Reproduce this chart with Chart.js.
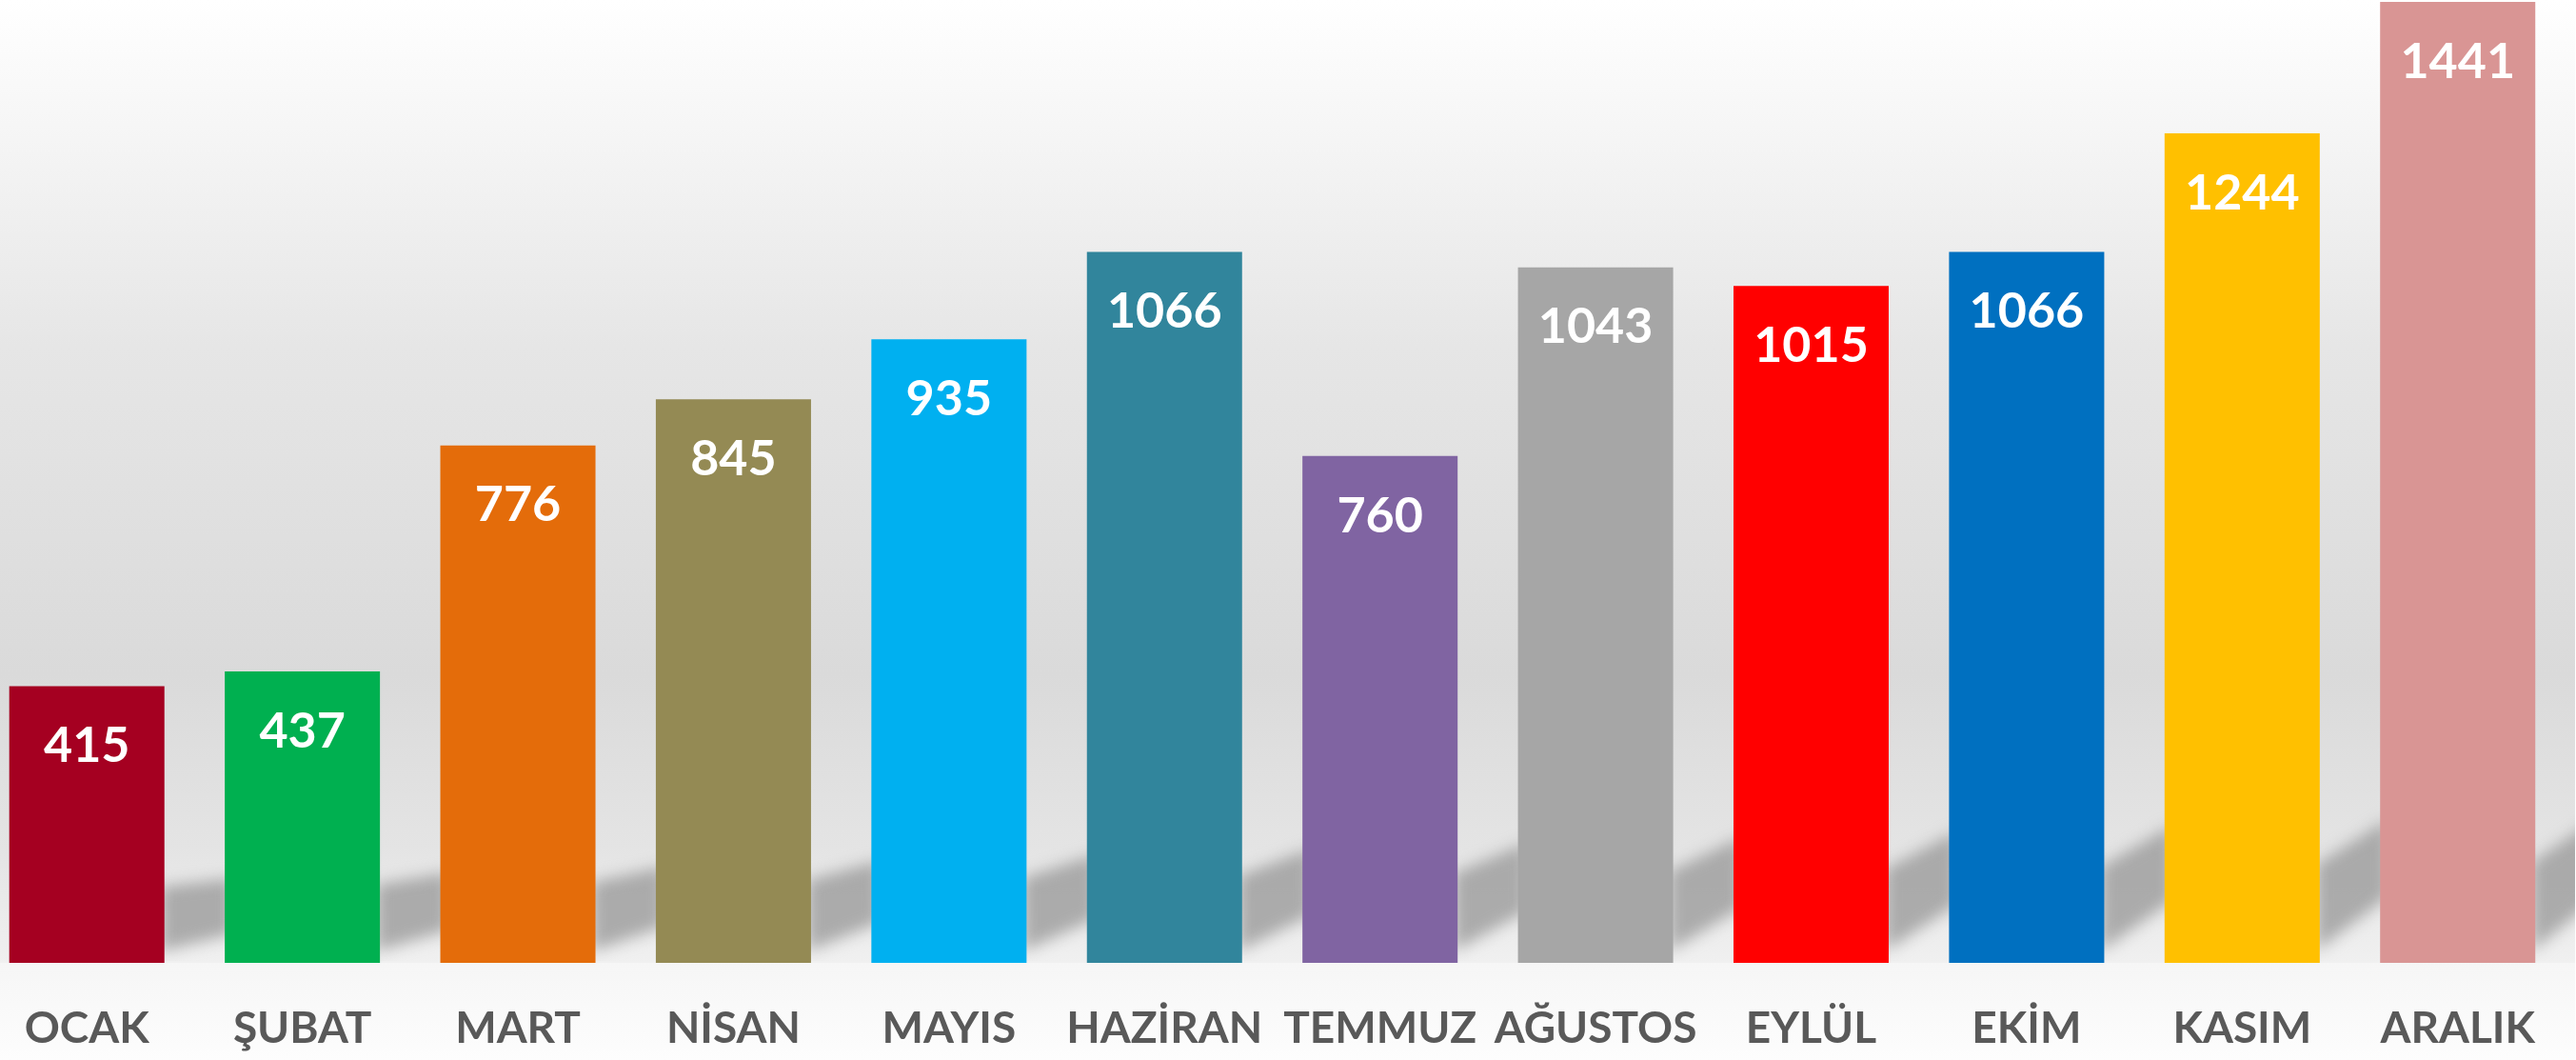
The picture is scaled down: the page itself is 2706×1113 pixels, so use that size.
<!DOCTYPE html>
<html>
<head>
<meta charset="utf-8">
<script src="https://cdn.jsdelivr.net/npm/chart.js@4"></script>
<style>
    body { margin: 0; overflow: hidden; background: #ffffff; }
    #chart-container { position: absolute; left: -22px; top: 0; width: 2727px; height: 1113px; }
</style>
</head>
<body>
<div id="chart-container"><canvas id="monthly-chart"></canvas></div>
<script>
const months = ["OCAK", "ŞUBAT", "MART", "NİSAN", "MAYIS", "HAZİRAN", "TEMMUZ", "AĞUSTOS", "EYLÜL", "EKİM", "KASIM", "ARALIK"];
const counts = [415, 437, 776, 845, 935, 1066, 760, 1043, 1015, 1066, 1244, 1441];
const barColors = ["#A50021", "#00B050", "#E46C0A", "#948A54", "#00B0F0", "#31859C",
                   "#8064A2", "#A6A6A6", "#FF0000", "#0070C0", "#FFC000", "#D99594"];

// Slide-like grey gradient behind everything, plus slanted floor shadows next to each bar
const backgroundPlugin = {
    id: 'background',
    beforeDraw(chart) {
        const ctx = chart.ctx;
        const w = chart.width, h = chart.height;
        const base = chart.chartArea.bottom;
        const grad = ctx.createLinearGradient(0, 0, 0, base);
        grad.addColorStop(0, '#ffffff');
        grad.addColorStop(0.36, '#e6e6e6');
        grad.addColorStop(0.7, '#dadada');
        grad.addColorStop(0.88, '#e4e4e4');
        grad.addColorStop(1, '#f0f0f0');
        ctx.save();
        ctx.fillStyle = grad;
        ctx.fillRect(0, 0, w, base);
        const floor = ctx.createLinearGradient(0, base, 0, h);
        floor.addColorStop(0, '#f6f6f6');
        floor.addColorStop(1, '#fdfdfd');
        ctx.fillStyle = floor;
        ctx.fillRect(0, base, w, h - base);

        // shadows: steeper and taller towards the right
        ctx.beginPath();
        ctx.rect(0, 0, w, base - 2);
        ctx.clip();
        ctx.filter = 'blur(8px)';
        ctx.fillStyle = 'rgba(150,150,150,0.75)';
        const bars = chart.getDatasetMeta(0).data;
        bars.forEach((bar, i) => {
            const right = bar.x + bar.width / 2;
            const gap = 72;
            const t = i / (bars.length - 1);
            const slope = 0.12 + 0.6 * t;
            const top = 80 + 25 * t;
            ctx.beginPath();
            ctx.moveTo(right - 4, base - 12);
            ctx.lineTo(right - 4, base - top);
            ctx.lineTo(right + gap, base - top - slope * gap);
            ctx.lineTo(right + gap, base - 22 - slope * gap);
            ctx.closePath();
            ctx.fill();
        });
        ctx.restore();
    }
};

// White value labels near the top inside each bar
const valueLabelPlugin = {
    id: 'valueLabels',
    afterDatasetsDraw(chart) {
        const ctx = chart.ctx;
        ctx.save();
        ctx.font = 'bold 52px Lato';
        ctx.fillStyle = '#ffffff';
        ctx.textAlign = 'center';
        ctx.textBaseline = 'middle';
        chart.getDatasetMeta(0).data.forEach((bar, i) => {
            ctx.fillText(counts[i], bar.x, bar.y + 63);
        });
        ctx.restore();
    }
};

document.addEventListener('DOMContentLoaded', function() {
    const ctx = document.getElementById('monthly-chart');

    new Chart(ctx, {
        type: 'bar',
        data: {
            labels: months,
            datasets: [
                {
                    data: counts,
                    backgroundColor: barColors,
                    borderWidth: 0,
                    barPercentage: 0.72,
                    categoryPercentage: 1
                }
            ]
        },
        plugins: [backgroundPlugin, valueLabelPlugin],
        options: {
            responsive: true,
            maintainAspectRatio: false,
            animation: false,
            layout: { padding: { top: 2, left: 0, right: 0, bottom: 0 } },
            plugins: {
                legend: { display: false },
                tooltip: { enabled: false }
            },
            scales: {
                x: {
                    grid: { display: false, drawTicks: false },
                    border: { display: false },
                    ticks: {
                        color: '#595959',
                        font: { family: 'Lato', weight: 'bold', size: 46 },
                        padding: 42,
                        autoSkip: false,
                        maxRotation: 0
                    },
                    afterFit(scale) { scale.height = 102; }
                },
                y: {
                    display: false,
                    min: 0,
                    max: 1441
                }
            }
        }
    });
});
</script>
</body>
</html>
